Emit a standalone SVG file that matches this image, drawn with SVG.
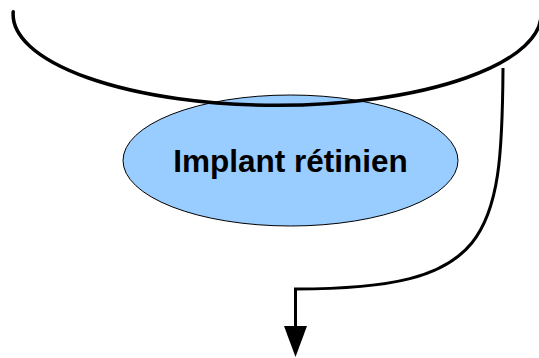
<svg xmlns="http://www.w3.org/2000/svg" width="539" height="358" viewBox="0 0 539 358">
<style>
.node{fill:#99ccff;stroke:#000;stroke-width:1}
.lbl{font-family:"Liberation Sans",Arial,sans-serif;font-weight:bold;font-size:31.5px;fill:#000;text-anchor:middle}
.thick{fill:none;stroke:#000;stroke-width:3.5;stroke-linecap:round}
.conn{fill:none;stroke:#000;stroke-width:3}
.head{fill:#000}
</style>
<rect width="539" height="358" fill="#fff"/>
<g id="implant">
<ellipse class="node" cx="290.5" cy="160.5" rx="167.5" ry="65.5"/>
<text class="lbl" x="290.5" y="172">Implant rétinien</text>
</g>
<g id="eye">
<path class="thick" d="M13.2,11.8 A264 91 0 1 0 541,11.8"/>
</g>
<g id="connectors">
<path class="conn" d="M503,68 C502,240 490,289 295.5,289 L295.5,326"/>
<polygon class="head" points="284,326 307,326 295.5,357"/>
</g>
</svg>
